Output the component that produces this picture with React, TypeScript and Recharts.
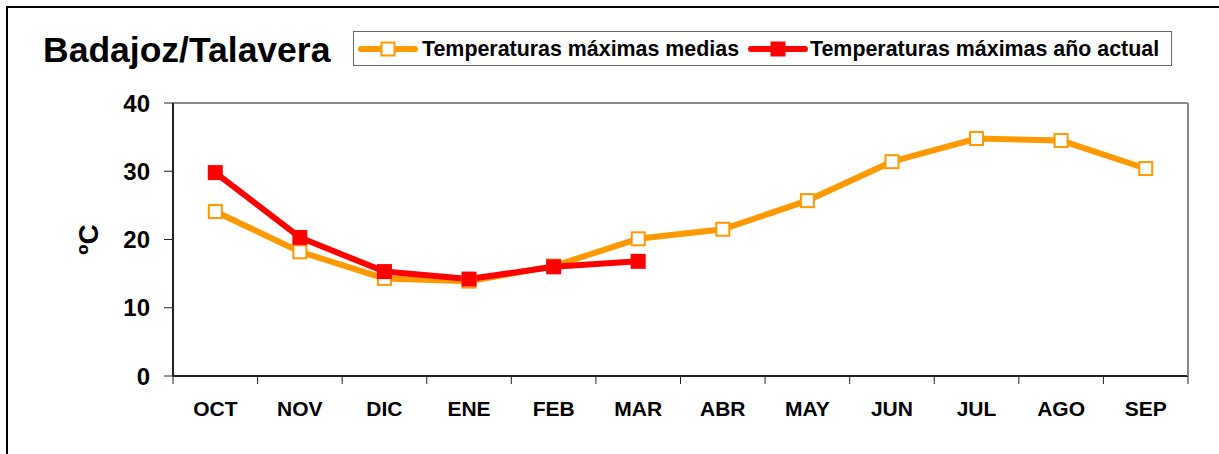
import React from 'react';
import {
  LineChart,
  Line,
  XAxis,
  YAxis,
  CartesianGrid,
  ReferenceLine,
  Legend,
} from 'recharts';

const MONTHS = ['OCT', 'NOV', 'DIC', 'ENE', 'FEB', 'MAR', 'ABR', 'MAY', 'JUN', 'JUL', 'AGO', 'SEP'];
const MEDIAS = [24.1, 18.2, 14.3, 13.9, 16.1, 20.1, 21.5, 25.7, 31.4, 34.8, 34.5, 30.4];
const ACTUAL = [29.8, 20.3, 15.3, 14.2, 16.0, 16.8, null, null, null, null, null, null];
const Y_TICKS = [0, 10, 20, 30, 40];

const ORANGE = '#FF9900';
const RED = '#FF0000';
const FONT = '"Liberation Sans", Arial, sans-serif';

const data = MONTHS.map((m, i) => ({ month: m, medias: MEDIAS[i], actual: ACTUAL[i] }));

const OpenSquare = (props: any) => {
  const { cx, cy, index } = props;
  if (cx == null || cy == null) return <g key={`o-${index}`} />;
  return (
    <rect key={`o-${index}`} x={cx - 6.5} y={cy - 6.5} width={13} height={13} fill="#fff" stroke={ORANGE} strokeWidth={2} />
  );
};

const FilledSquare = (props: any) => {
  const { cx, cy, index, value } = props;
  if (cx == null || cy == null || value == null) return <g key={`r-${index}`} />;
  return <rect key={`r-${index}`} x={cx - 7.5} y={cy - 7.5} width={15} height={15} fill={RED} />;
};

// month label plus the tick marks on the band edges
const MonthTick = (props: any) => {
  const { x, y, payload, index } = props;
  const half = payload?.offset || 1015 / 24;
  return (
    <g>
      <line x1={x - half} x2={x - half} y1={y - 8} y2={y} stroke="#222" strokeWidth={1} />
      {index === MONTHS.length - 1 && (
        <line x1={x + half} x2={x + half} y1={y - 8} y2={y} stroke="#222" strokeWidth={1} />
      )}
      <text x={x} y={y + 32} textAnchor="middle" fontFamily={FONT} fontWeight="bold" fontSize={21} fill="#000">
        {payload.value}
      </text>
    </g>
  );
};

const LegendIcon = ({ color, open }: { color: string; open: boolean }) => (
  <svg width={60} height={20} style={{ display: 'block' }}>
    <line x1={3} x2={57} y1={10} y2={10} stroke={color} strokeWidth={6} strokeLinecap="round" />
    {open ? (
      <rect x={23.5} y={3.5} width={13} height={13} fill="#fff" stroke={color} strokeWidth={2} />
    ) : (
      <rect x={22.5} y={2.5} width={15} height={15} fill={color} />
    )}
  </svg>
);

const legendText: React.CSSProperties = {
  position: 'absolute',
  top: 5,
  fontFamily: FONT,
  fontWeight: 'bold',
  fontSize: 21.4,
  lineHeight: '24px',
  whiteSpace: 'nowrap',
  color: '#000',
};

const ChartLegend = () => (
  <div
    style={{
      position: 'relative',
      width: 817,
      height: 33,
      border: '1px solid #666',
      background: '#fff',
    }}
  >
    <div style={{ position: 'absolute', left: 4, top: 7 }}>
      <LegendIcon color={ORANGE} open />
    </div>
    <div style={{ ...legendText, left: 68 }}>Temperaturas máximas medias</div>
    <div style={{ position: 'absolute', left: 394, top: 7 }}>
      <LegendIcon color={RED} open={false} />
    </div>
    <div style={{ ...legendText, left: 456 }}>Temperaturas máximas año actual</div>
  </div>
);

export default function App() {
  return (
    <div
      style={{
        position: 'absolute',
        left: 0,
        top: 0,
        width: 1219,
        height: 454,
        overflow: 'hidden',
        background: '#fff',
      }}
    >
      <div
        style={{
          position: 'absolute',
          left: 6,
          top: 6,
          width: 1400,
          height: 600,
          borderLeft: '2px solid #000',
          borderTop: '2px solid #000',
        }}
      />
      <div
        style={{
          position: 'absolute',
          left: 43,
          top: 33,
          fontFamily: FONT,
          fontWeight: 'bold',
          fontSize: 35.5,
          lineHeight: '35px',
          whiteSpace: 'nowrap',
          color: '#000',
          zIndex: 2,
        }}
      >
        Badajoz/Talavera
      </div>
      <div style={{ position: 'absolute', left: 0, top: 0 }}>
        <LineChart width={1219} height={454} data={data} margin={{ top: 103, right: 30, bottom: 38, left: 113 }}>
          <CartesianGrid horizontal vertical={false} stroke="#333" strokeWidth={1} />
          <XAxis
            dataKey="month"
            scale="band"
            height={40}
            tickLine={false}
            tickSize={8}
            tickMargin={0}
            axisLine={{ stroke: '#222', strokeWidth: 2 }}
            tick={<MonthTick />}
            interval={0}
          />
          <YAxis
            yAxisId="left"
            width={60}
            domain={[0, 40]}
            ticks={Y_TICKS}
            interval={0}
            tickSize={9}
            tickMargin={14}
            axisLine={{ stroke: '#222', strokeWidth: 2 }}
            tickLine={{ stroke: '#222' }}
            tick={{ fontFamily: FONT, fontWeight: 'bold', fontSize: 24, fill: '#000' }}
            label={({ viewBox }: any) => (
              <text
                x={viewBox.x - 25}
                y={viewBox.y + viewBox.height / 2}
                transform={`rotate(-90 ${viewBox.x - 25} ${viewBox.y + viewBox.height / 2})`}
                textAnchor="middle"
                dominantBaseline="central"
                fontFamily={FONT}
                fontWeight="bold"
                fontSize={28}
                fill="#000"
              >
                ºC
              </text>
            )}
          />
          <YAxis
            yAxisId="right"
            orientation="right"
            width={1}
            domain={[0, 40]}
            tick={false}
            tickLine={false}
            axisLine={{ stroke: '#888', strokeWidth: 2 }}
          />
          <ReferenceLine yAxisId="left" y={40} stroke="#888" strokeWidth={2} />
          <Line
            yAxisId="left"
            dataKey="medias"
            stroke={ORANGE}
            strokeWidth={6}
            dot={OpenSquare}
            activeDot={false}
            isAnimationActive={false}
          />
          <Line
            yAxisId="left"
            dataKey="actual"
            stroke={RED}
            strokeWidth={6}
            dot={FilledSquare}
            activeDot={false}
            connectNulls={false}
            isAnimationActive={false}
          />
          <Legend
            layout="horizontal"
            verticalAlign="middle"
            align="center"
            content={() => <ChartLegend />}
            wrapperStyle={{ position: 'absolute', left: 353, top: 31, width: 819, height: 35 }}
          />
        </LineChart>
      </div>
    </div>
  );
}
